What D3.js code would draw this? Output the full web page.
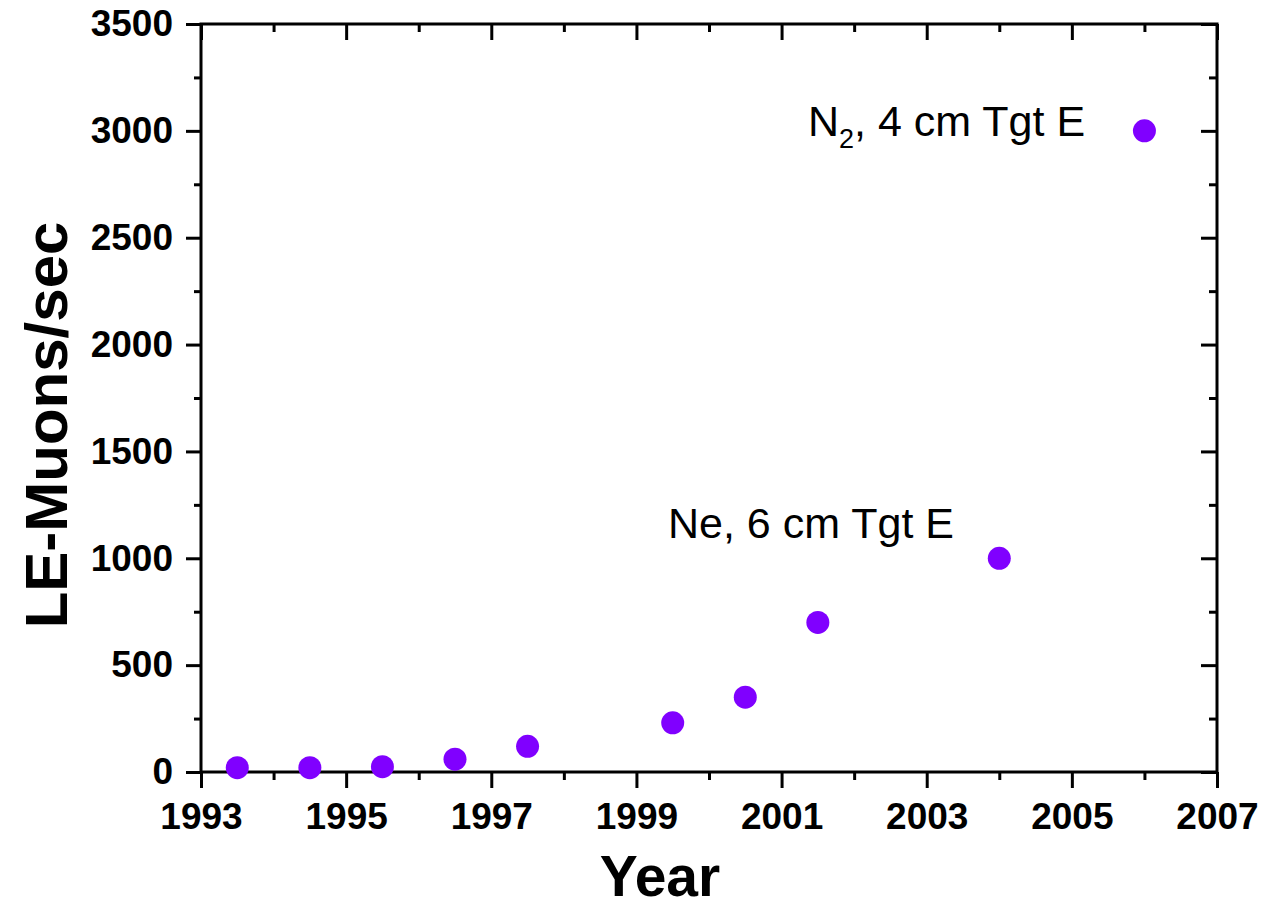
<!DOCTYPE html>
<html>
<head>
<meta charset="utf-8">
<script src="https://cdn.jsdelivr.net/npm/d3@7"></script>
<style>
  html, body { margin: 0; padding: 0; background: #fff; }
  svg { display: block; }
  text { font-family: "Liberation Sans", Arial, sans-serif; }
</style>
</head>
<body>
<script>
// Low-energy muon rate per year
const years = [1993.5, 1994.5, 1995.5, 1996.5, 1997.5, 1999.5, 2000.5, 2001.5, 2004, 2006];
const rates = [20, 20, 25, 60, 120, 230, 350, 700, 1000, 3000];

const xTicks = [1993, 1995, 1997, 1999, 2001, 2003, 2005, 2007];
const xMinor = [1994, 1996, 1998, 2000, 2002, 2004, 2006];
const yTicks = [0, 500, 1000, 1500, 2000, 2500, 3000, 3500];
const yMinor = [250, 750, 1250, 1750, 2250, 2750, 3250];

const W = 1263, H = 910;
const m = { left: 201, right: 1217, top: 24, bottom: 772 };

const svg = d3.select("body").append("svg").attr("width", W).attr("height", H);

const x = d3.scaleLinear().domain([1993, 2007]).range([m.left, m.right]);
const y = d3.scaleLinear().domain([0, 3500]).range([m.bottom, m.top]);

const axisStroke = 3;

function styleAxis(g) {
  g.select(".domain").remove();
  g.selectAll(".tick line").attr("stroke", "#000").attr("stroke-width", axisStroke);
}

// bottom axis: major ticks with labels, outward
const bottom = svg.append("g").attr("transform", `translate(0,${m.bottom})`)
  .call(d3.axisBottom(x).tickValues(xTicks).tickFormat(d3.format("d")).tickSize(16).tickPadding(15));
styleAxis(bottom);
bottom.selectAll(".tick text").attr("font-size", 37).attr("font-weight", "bold").attr("fill", "#000");

svg.append("g").attr("transform", `translate(0,${m.bottom})`)
  .call(d3.axisBottom(x).tickValues(xMinor).tickFormat("").tickSize(8))
  .call(styleAxis);

// top axis: ticks inward, no labels
svg.append("g").attr("transform", `translate(0,${m.top})`)
  .call(d3.axisTop(x).tickValues(xTicks).tickFormat("").tickSize(-16))
  .call(styleAxis);
svg.append("g").attr("transform", `translate(0,${m.top})`)
  .call(d3.axisTop(x).tickValues(xMinor).tickFormat("").tickSize(-8))
  .call(styleAxis);

// left axis: major ticks with labels, outward
const left = svg.append("g").attr("transform", `translate(${m.left},0)`)
  .call(d3.axisLeft(y).tickValues(yTicks).tickFormat(d3.format("d")).tickSize(15).tickPadding(13));
styleAxis(left);
left.selectAll(".tick text").attr("font-size", 37).attr("font-weight", "bold").attr("fill", "#000");

svg.append("g").attr("transform", `translate(${m.left},0)`)
  .call(d3.axisLeft(y).tickValues(yMinor).tickFormat("").tickSize(7))
  .call(styleAxis);

// right axis: ticks inward
svg.append("g").attr("transform", `translate(${m.right},0)`)
  .call(d3.axisRight(y).tickValues(yTicks).tickFormat("").tickSize(-16))
  .call(styleAxis);
svg.append("g").attr("transform", `translate(${m.right},0)`)
  .call(d3.axisRight(y).tickValues(yMinor).tickFormat("").tickSize(-8))
  .call(styleAxis);

// frame
svg.append("rect")
  .attr("x", m.left).attr("y", m.top)
  .attr("width", m.right - m.left).attr("height", m.bottom - m.top)
  .attr("fill", "none").attr("stroke", "#000").attr("stroke-width", axisStroke);

// data points
svg.append("g").selectAll("circle")
  .data(years.map((yr, i) => ({ yr, v: rates[i] })))
  .join("circle")
  .attr("cx", d => x(d.yr))
  .attr("cy", d => y(d.v))
  .attr("r", 11.5)
  .attr("fill", "#8000ff");

// annotations
const n2 = svg.append("text").attr("x", 808).attr("y", 136)
  .attr("font-size", 43).attr("fill", "#000");
n2.append("tspan").text("N");
n2.append("tspan").attr("font-size", 27).attr("dy", 12).text("2");
n2.append("tspan").attr("dy", -12).text(", 4 cm Tgt E");

svg.append("text").attr("x", 668).attr("y", 538)
  .attr("font-size", 43).attr("fill", "#000")
  .text("Ne, 6 cm Tgt E");

// axis titles
svg.append("text")
  .attr("x", 660).attr("y", 896)
  .attr("text-anchor", "middle")
  .attr("font-size", 57).attr("font-weight", "bold")
  .text("Year");

svg.append("text")
  .attr("transform", `translate(67,${425}) rotate(-90)`)
  .attr("text-anchor", "middle")
  .attr("font-size", 60).attr("font-weight", "bold")
  .text("LE-Muons/sec");
</script>
</body>
</html>
